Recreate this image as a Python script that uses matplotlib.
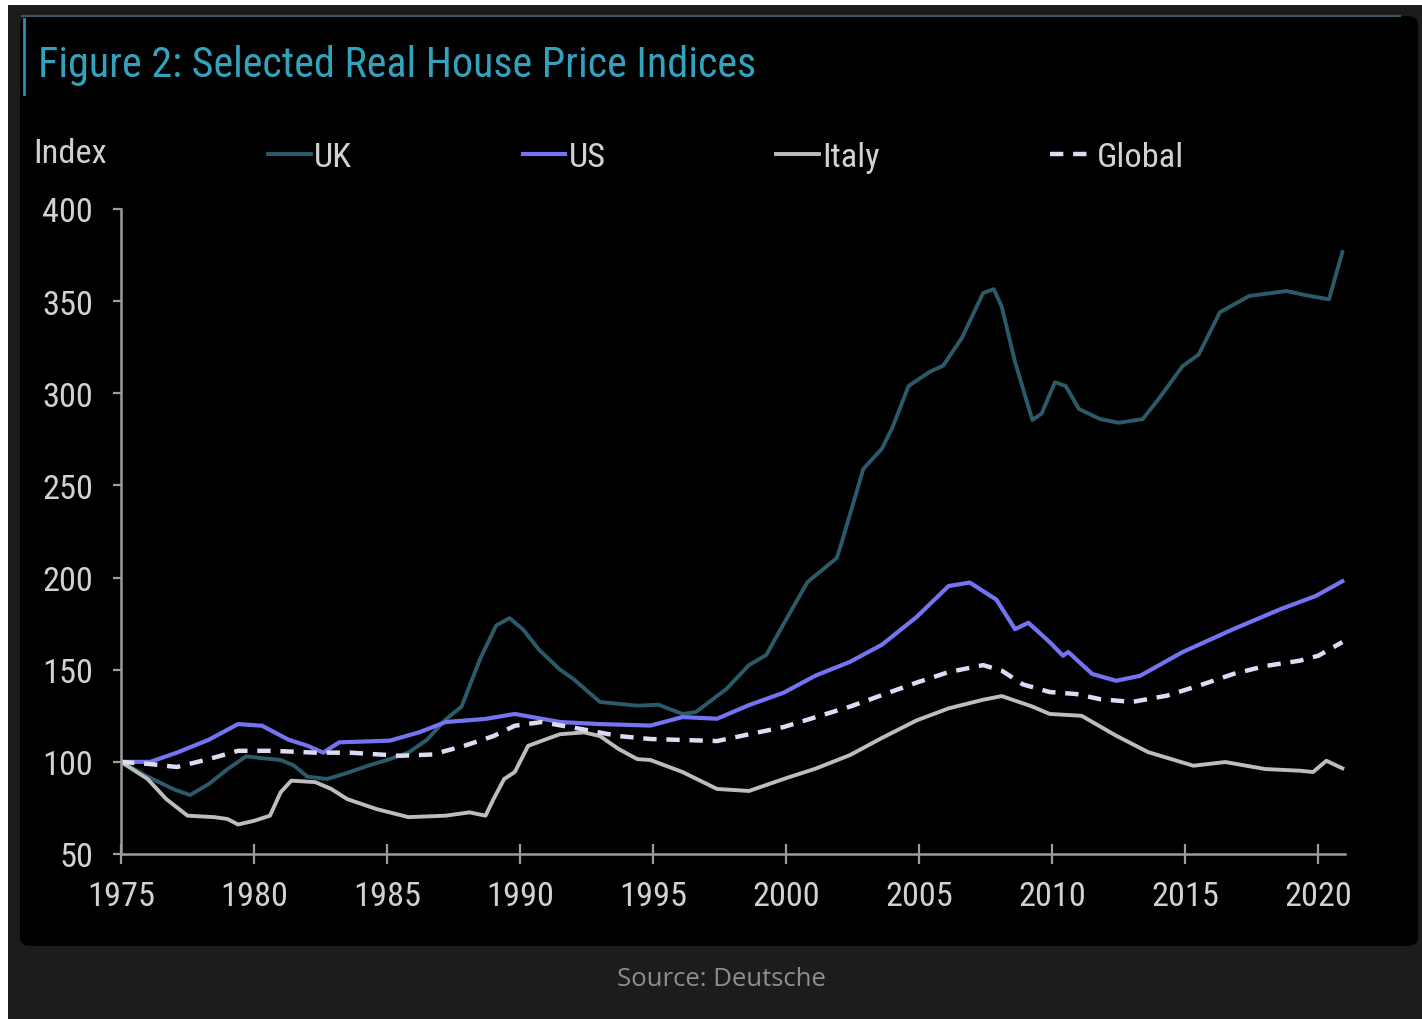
"""
Selected real house price indices (UK, US, Italy, Global), 1975-2021
"""

import matplotlib
matplotlib.use("Agg")
import matplotlib.pyplot as plt
from matplotlib import font_manager
from matplotlib.patches import Rectangle, FancyBboxPatch
from matplotlib.lines import Line2D

# --- data (index, 1975 = 100) ---
uk_years = [1975, 1976, 1977, 1977.6, 1978.3, 1979, 1979.7, 1980.3, 1981, 1981.5,
            1982, 1982.75, 1983.5, 1984.3, 1985, 1985.8, 1986.5, 1987.2, 1987.8,
            1988.5, 1989.1, 1989.6, 1990.1, 1990.7, 1991.5, 1992, 1993, 1994.4,
            1995.2, 1996.1, 1996.6, 1997.75, 1998.6, 1999.25, 1999.9, 2000.8,
            2001.9, 2002.1, 2002.9, 2003.6, 2004, 2004.6, 2005.4, 2005.9, 2006.6,
            2007.4, 2007.8, 2008.1, 2008.6, 2009.25, 2009.6, 2010.1, 2010.5, 2011,
            2011.8, 2012.5, 2013.4, 2014, 2014.9, 2015.5, 2016.3, 2017.4, 2018.8,
            2019.6, 2020.4, 2020.9]
uk_vals = [100, 92, 85, 82, 88, 96, 103, 102, 101, 98,
           92, 90.7, 94, 98, 101, 105, 112, 123, 130,
           156, 174, 178, 172, 161, 150, 145, 132.5, 130.5,
           131, 126, 127, 139.5, 152.5, 158, 174.8, 197.6,
           210.6, 219.8, 259, 270, 281.7, 304, 311.7, 315, 330,
           354.4, 356.5, 347, 317, 285.5, 289, 306, 304, 291.5,
           286, 284, 286, 297, 314.8, 321, 344, 352.8, 355.5,
           353, 351, 376.6]

us_years = [1975, 1976.1, 1977.1, 1978.3, 1979.4, 1980.3, 1981.3, 1982, 1982.6,
            1983.2, 1985.1, 1986.2, 1987.2, 1988.7, 1989.8, 1991.5, 1993, 1994.9,
            1996.1, 1997.4, 1998.6, 1999.9, 2001.1, 2002.4, 2003.6, 2004.9, 2006.1,
            2006.9, 2007.9, 2008.6, 2009.1, 2009.9, 2010.4, 2010.6, 2011.5, 2012.4,
            2013.3, 2014.9, 2016.8, 2018.6, 2019.9, 2020.9]
us_vals = [100, 100, 105, 112, 120.5, 119.6, 112, 108.8, 105,
           110.6, 111.5, 116, 121.6, 123.3, 126, 121.6, 120.5, 119.7,
           124.3, 123.4, 130.8, 137.5, 146.8, 154.3, 163.6, 178.6, 195.4,
           197.3, 188, 172, 175.5, 165, 157.6, 159.6, 147.7, 144,
           146.7, 159.6, 172, 183, 190, 198]

italy_years = [1975, 1976, 1976.7, 1977.5, 1978.5, 1979, 1979.4, 1980, 1980.6,
               1981, 1981.4, 1982.3, 1982.9, 1983.5, 1984.6, 1985.8, 1987.2,
               1988.1, 1988.7, 1989, 1989.4, 1989.8, 1990.3, 1991, 1991.5,
               1992.4, 1993, 1993.7, 1994.4, 1994.9, 1996.1, 1997.4, 1998.6,
               1999.9, 2001.1, 2002.4, 2003.6, 2004.9, 2006.1, 2007.4, 2008.1,
               2009.25, 2009.9, 2011.1, 2012.4, 2013.6, 2015.3, 2016.5, 2018,
               2019.3, 2019.8, 2020.3, 2020.9]
italy_vals = [100, 90.7, 79.8, 70.8, 70, 69, 66, 68, 70.8,
              83.5, 89.8, 89, 85.3, 79.8, 74.4, 70, 70.8,
              72.6, 70.8, 79.8, 90.7, 94.5, 108.7, 112.4, 115,
              116, 114, 107, 101.5, 101, 94.5, 85.3, 84.2,
              90.7, 96.3, 103.7, 113, 122.5, 129, 133.7, 135.7,
              130, 126, 125, 114.2, 105.3, 97.9, 99.9, 96.1,
              95.2, 94.5, 100.6, 96.5]

global_years = [1975, 1976.1, 1977.1, 1978.3, 1979.4, 1980.7, 1982.3, 1983.6,
                1985.5, 1986.7, 1987.9, 1989, 1989.8, 1990.8, 1992.3, 1993.7,
                1994.9, 1997.4, 1999.9, 2002.4, 2004.9, 2006.1, 2007.4, 2008.1,
                2008.9, 2009.9, 2010.9, 2011.8, 2013, 2014.3, 2015.5, 2016.8,
                2018, 2019.3, 2020, 2020.9]
global_vals = [100, 98.8, 97.2, 101.5, 106, 106, 105, 105,
               103.3, 104, 108.7, 114, 119.6, 121.6, 117.8, 114,
               112.4, 111.3, 118.9, 130, 143, 148.7, 152.5, 149.5,
               142, 137.9, 136.8, 134, 132.5, 135.9, 141.3, 147.7,
               152, 154.9, 157.6, 165]

series_names = ["UK", "US", "Italy", "Global"]
y_ticks = [50, 100, 150, 200, 250, 300, 350, 400]
x_ticks = [1975, 1980, 1985, 1990, 1995, 2000, 2005, 2010, 2015, 2020]


def pick_font(candidates):
    for name in candidates:
        try:
            font_manager.findfont(name, fallback_to_default=False)
            return name
        except Exception:
            continue
    return "DejaVu Sans"


narrow = pick_font(["Liberation Sans Narrow", "Arial Narrow", "Roboto Condensed",
                    "Liberation Sans", "DejaVu Sans"])
plain = pick_font(["Open Sans", "Noto Sans", "DejaVu Sans"])

W, H = 1422, 1020
fig = plt.figure(figsize=(W / 100, H / 100), dpi=100, facecolor="white")

# outer dark frame and the black card (behind the axes)
fig.patches.append(Rectangle((8 / W, 0), 1 - 8 / W, 1 - 6 / H,
                             transform=fig.transFigure, facecolor="#1c1c1c",
                             edgecolor="none", zorder=-3))
fig.patches.append(FancyBboxPatch((20 / W, 1 - 947 / H), 1398 / W, 930 / H,
                                  boxstyle="round,pad=0,rounding_size=0.008",
                                  transform=fig.transFigure, facecolor="black",
                                  edgecolor="none", zorder=-2))
fig.lines.append(Line2D([22 / W, 1400 / W], [1 - 17 / H, 1 - 17 / H],
                        transform=fig.transFigure, color="#3a5660", lw=1.6, zorder=-1))
fig.lines.append(Line2D([24 / W, 24 / W], [1 - 20 / H, 1 - 95 / H],
                        transform=fig.transFigure, color="#2a8fb2", lw=2.0, zorder=-1))

title = fig.text(38 / W, 1 - 66 / H, "Figure 2: Selected Real House Price Indices",
                 fontfamily=narrow, fontsize=33, color="#32a2bd",
                 va="center", ha="left")

# the original uses a condensed face; shrink sizes if only a regular width is available
fig.canvas.draw()
tw = title.get_window_extent().width
k = min(1.0, 719 / tw)
title.set_fontsize(33 * k)
txt_size = 27 * k

fig.text(33 / W, 1 - 154 / H, "Index", fontfamily=narrow, fontsize=txt_size,
         color="#cfcfcf", va="center", ha="left")
fig.text(721 / W, 1 - 980 / H, "Source: Deutsche", fontfamily=plain, fontsize=18.5,
         color="#8e8e8e", va="center", ha="center")

ax = fig.add_axes([121 / W, 1 - 855 / H, (1345 - 121) / W, (855 - 210) / H])
ax.patch.set_alpha(0)

ax.plot(uk_years, uk_vals, color="#2b5b6a", lw=2.8, label=series_names[0])
ax.plot(us_years, us_vals, color="#7474f2", lw=3.0, label=series_names[1])
ax.plot(italy_years, italy_vals, color="#bdbdbd", lw=2.8, label=series_names[2])
gl, = ax.plot(global_years, global_vals, color="#dcdcf4", lw=3.2,
              label=series_names[3])
gl.set_dashes([3.0, 2.2])

ax.set_xlim(1975, 2021)
ax.set_ylim(50, 400)
ax.set_xticks(x_ticks)
ax.set_yticks(y_ticks)

for side in ["top", "right"]:
    ax.spines[side].set_visible(False)
for side in ["left", "bottom"]:
    ax.spines[side].set_color("#9c9c9c")
    ax.spines[side].set_linewidth(1.8)

ax.tick_params(axis="y", direction="out", length=6, width=1.6, color="#9c9c9c",
               labelcolor="#d2d2d2", labelsize=txt_size, pad=14)
ax.tick_params(axis="x", direction="inout", length=14, width=1.6, color="#9c9c9c",
               labelcolor="#d2d2d2", labelsize=txt_size, pad=12)
for lab in ax.get_xticklabels() + ax.get_yticklabels():
    lab.set_fontfamily(narrow)

leg = ax.legend(loc="center left", bbox_to_anchor=(268 / W, 1 - 158 / H),
                bbox_transform=fig.transFigure, ncol=4, frameon=False,
                borderpad=0, borderaxespad=0, handlelength=1.24,
                handletextpad=0.1, columnspacing=4.95,
                prop={"family": narrow, "size": txt_size})
for t in leg.get_texts():
    t.set_color("#d2d2d2")

fig.savefig("out.png", dpi=100, facecolor="white")
